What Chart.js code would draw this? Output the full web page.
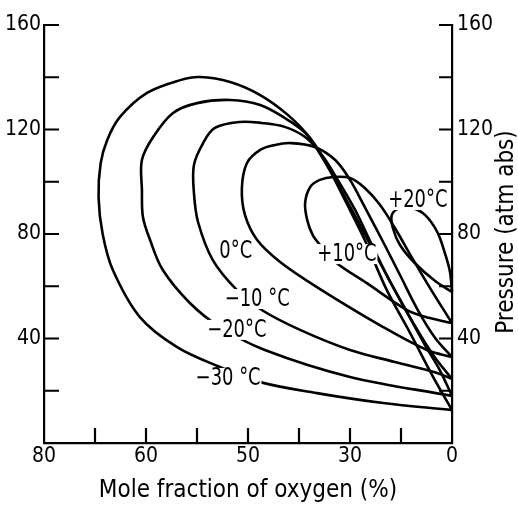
<!DOCTYPE html>
<html>
<head>
<meta charset="utf-8">
<script src="https://cdn.jsdelivr.net/npm/chart.js@4.4.1/dist/chart.umd.min.js"></script>
<style>
  html, body { margin: 0; padding: 0; background: #fff; }
  canvas { display: block; }
</style>
</head>
<body>
<canvas id="phaseChart" width="518" height="507"></canvas>
<script>
// isotherms: oxygen mole fraction (%) vs pressure (atm abs), traced as closed loops
const oxygenM30 = [0, 13.5, 26.5, 37.6, 45.5, 53.9, 61.2, 66.5, 68.5, 69.3, 68.9, 67.6, 65.1, 59.8, 53.3, 49.4, 43.5, 37.6, 32.2, 27.8, 24.5, 21.0, 17.1, 12.8, 8.2, 3.9, 0];
const pressureM30 = [12.6, 15.3, 19.1, 23.3, 29.1, 36.7, 48.2, 66.2, 80.0, 94.0, 107.0, 116.0, 124.8, 134.0, 138.9, 140.1, 138.2, 133.2, 125.6, 116.7, 106.4, 93.0, 77.7, 58.6, 42.1, 26.0, 12.6];

const oxygenM20 = [0, 20.0, 36.7, 45.5, 51.4, 56.7, 59.2, 60.6, 60.8, 60.8, 58.6, 54.7, 50.0, 43.5, 37.6, 32.8, 28.8, 26.1, 22.5, 18.6, 14.1, 9.6, 5.3, 2.4, 0];
const pressureM20 = [18.0, 25.3, 35.6, 44.4, 53.6, 66.2, 77.7, 86.5, 96.8, 108.3, 117.1, 126.3, 130.1, 131.3, 129.4, 124.4, 118.7, 111.4, 99.5, 85.4, 68.9, 52.8, 37.5, 27.9, 18.0];

const oxygenM10 = [0, 2.9, 11.2, 20.0, 29.8, 37.3, 42.2, 46.9, 49.8, 50.6, 50.6, 48.8, 46.5, 41.6, 37.3, 32.8, 28.8, 25.5, 22.4, 19.0, 15.7, 11.8, 7.7, 3.7, 0];
const pressureM10 = [24.5, 26.8, 31.0, 35.6, 43.3, 50.9, 58.6, 70.0, 84.6, 95.7, 106.4, 114.8, 120.6, 122.9, 122.5, 121.0, 117.1, 110.2, 100.7, 89.2, 75.8, 60.5, 46.3, 33.7, 24.5];

const oxygen0 = [0, 4.9, 13.5, 26.5, 33.7, 38.2, 40.6, 41.2, 40.2, 37.6, 34.7, 31.6, 26.9, 22.9, 20.0, 17.1, 13.7, 10.2, 6.7, 3.3, 0];
const pressure0 = [32.9, 35.6, 44.4, 59.7, 69.3, 77.7, 87.3, 97.6, 107.2, 112.2, 114.1, 114.8, 113.3, 108.3, 100.7, 90.3, 77.7, 64.3, 50.9, 40.2, 32.9];

const oxygenP10 = [0, 4.3, 8.8, 16.7, 22.9, 25.5, 27.3, 28.4, 28.8, 27.8, 25.9, 23.3, 20.0, 17.1, 14.1, 11.2, 7.8, 4.3, 0];
const pressureP10 = [45.9, 47.8, 50.9, 61.2, 69.3, 75.0, 79.6, 85.4, 91.9, 98.0, 100.7, 101.8, 101.4, 97.6, 91.1, 82.3, 70.8, 59.3, 45.9];

const oxygenP20 = [0, 3.3, 7.3, 10.2, 11.6, 11.8, 10.2, 7.8, 5.3, 2.9, 1.4, 0.4, 0];
const pressureP20 = [57.8, 62.0, 68.9, 75.8, 82.3, 87.3, 90.0, 90.0, 87.3, 80.8, 72.7, 65.5, 57.8];

// isotherm names and where their names sit on the plot
const isothermText = ['\u221230 \u00b0C', '\u221220\u00b0C', '\u221210 \u00b0C', '0\u00b0C', '+10\u00b0C', '+20\u00b0C'];
const labelOxygen = [43.9, 42.2, 38.2, 42.4, 20.6, 6.7];
const labelPressure = [24.9, 43.3, 55.1, 73.5, 72.3, 93.0];

// axis ticks
const xTickValues = [80, 60, 40, 20, 0];
const xTickText = ['80', '60', '50', '30', '0'];
const yTickValues = [40, 80, 120, 160];

const FONT = '"DejaVu Sans Condensed", "DejaVu Sans", sans-serif';

function toPoints(xs, ys) {
  return xs.map((x, i) => ({ x: x, y: ys[i] }));
}

const loops = [
  [oxygenM30, pressureM30],
  [oxygenM20, pressureM20],
  [oxygenM10, pressureM10],
  [oxygen0, pressure0],
  [oxygenP10, pressureP10],
  [oxygenP20, pressureP20],
];

const datasets = loops.map((l, i) => ({
  label: isothermText[i],
  data: toPoints(l[0], l[1]),
  showLine: true,
  borderColor: '#000',
  borderWidth: 2.6,
  pointRadius: 0,
  tension: 0.35,
  clip: 6,
}));

// ticks point into the plot on all three axes
const inwardTicks = {
  id: 'inwardTicks',
  afterDraw(chart) {
    const { ctx, chartArea: a, scales } = chart;
    ctx.save();
    ctx.strokeStyle = '#000';
    ctx.lineWidth = 2.2;
    ctx.beginPath();
    for (let v = 10; v < 80; v += 10) {
      const px = scales.x.getPixelForValue(v);
      ctx.moveTo(px, a.bottom);
      ctx.lineTo(px, a.bottom - 15);
    }
    for (let v = 20; v <= 160; v += 20) {
      const py = scales.y.getPixelForValue(v);
      ctx.moveTo(a.left, py);
      ctx.lineTo(a.left + 15, py);
      const pr = scales.y2.getPixelForValue(v);
      ctx.moveTo(a.right, pr);
      ctx.lineTo(a.right - 13, pr);
    }
    ctx.stroke();
    ctx.restore();
  }
};

// temperature names written over the curves, blanking the line underneath;
// tall narrow lettering, so the font is squeezed sideways
const isothermLabels = {
  id: 'isothermLabels',
  afterDatasetsDraw(chart) {
    const { ctx, scales } = chart;
    isothermText.forEach((t, i) => {
      const px = scales.x.getPixelForValue(labelOxygen[i]);
      const py = scales.y.getPixelForValue(labelPressure[i]);
      ctx.save();
      ctx.translate(px, py);
      ctx.scale(0.83, 1);
      ctx.font = '24px ' + FONT;
      ctx.textAlign = 'center';
      ctx.textBaseline = 'middle';
      const w = ctx.measureText(t).width;
      ctx.fillStyle = '#fff';
      ctx.fillRect(-w / 2 - 1, -10, w + 2, 20);
      ctx.fillStyle = '#000';
      ctx.fillText(t, 0, 1);
      ctx.restore();
    });
  }
};

// right axis title reads bottom to top
const rightTitle = {
  id: 'rightTitle',
  afterDraw(chart) {
    const { ctx, chartArea: a } = chart;
    ctx.save();
    ctx.translate(507, (a.top + a.bottom) / 2 - 2);
    ctx.rotate(-Math.PI / 2);
    ctx.font = '24px ' + FONT;
    ctx.fillStyle = '#000';
    ctx.textAlign = 'center';
    ctx.textBaseline = 'middle';
    ctx.fillText('Pressure (atm abs)', 0, 0);
    ctx.restore();
  }
};

const yTicks = {
  color: '#000',
  font: { family: FONT, size: 21 },
  stepSize: 20,
  callback: (v) => (yTickValues.includes(v) ? String(v) : ''),
};

const config = {
  type: 'scatter',
  data: { datasets: datasets },
  options: {
    responsive: false,
    animation: false,
    events: [],
    layout: { padding: { top: 25, left: 0, right: 0, bottom: 0 } },
    plugins: { legend: { display: false }, tooltip: { enabled: false } },
    scales: {
      x: {
        type: 'linear',
        position: 'bottom',
        reverse: true,
        min: 0,
        max: 80,
        grid: { display: false, drawTicks: false },
        border: { display: true, color: '#000', width: 2.2 },
        ticks: {
          color: '#000',
          font: { family: FONT, size: 21 },
          stepSize: 10,
          padding: 1,
          maxRotation: 0,
          autoSkip: false,
          callback: (v) => {
            const i = xTickValues.indexOf(v);
            return i >= 0 ? xTickText[i] : '';
          },
        },
        title: {
          display: true,
          text: 'Mole fraction of oxygen (%)',
          color: '#000',
          font: { family: FONT, size: 24 },
          padding: { top: 0, bottom: 2 },
        },
        afterFit: (s) => { s.height = 64; },
      },
      y: {
        type: 'linear',
        position: 'left',
        min: 0,
        max: 160,
        grid: { display: false, drawTicks: false },
        border: { display: true, color: '#000', width: 2.2 },
        ticks: Object.assign({ padding: 3 }, yTicks),
        afterFit: (s) => { s.width = 44; },
      },
      y2: {
        type: 'linear',
        position: 'right',
        min: 0,
        max: 160,
        grid: { display: false, drawTicks: false },
        border: { display: true, color: '#000', width: 2.2 },
        ticks: Object.assign({ padding: 5 }, yTicks),
        afterFit: (s) => { s.width = 66; },
      },
    },
  },
  plugins: [inwardTicks, isothermLabels, rightTitle],
};

const phaseChart = new Chart(document.getElementById('phaseChart').getContext('2d'), config);
</script>
</body>
</html>
